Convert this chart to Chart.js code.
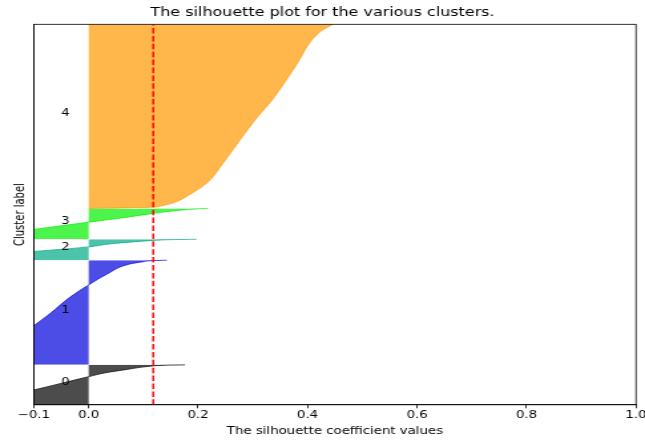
<!DOCTYPE html>
<html>
<head>
<meta charset="utf-8">
<script src="https://cdn.jsdelivr.net/npm/chart.js@4.4.1/dist/chart.umd.min.js"></script>
<style>
  html, body { margin: 0; padding: 0; background: #fff; overflow: hidden; }
  /* the reference figure is stretched sideways, so draw narrow and widen it */
  #wrap { width: 485px; height: 441px; transform: scaleX(1.3299); transform-origin: 0 0; }
</style>
</head>
<body>
<div id="wrap"><canvas id="silhouetteChart" width="485" height="441"></canvas></div>
<script>
// cluster names and number of samples in each one (stacked bottom to top)
const clusterLabels = ['0', '1', '2', '3', '4'];
const clusterSizes = [105, 275, 55, 81, 484];

// sorted silhouette values per cluster: rank inside the cluster -> coefficient
const cluster0Rank = [0, 39, 74, 84, 93, 101, 104, 105];
const cluster0Values = [-0.22, -0.1, 0.0, 0.03, 0.07, 0.11, 0.14, 0.176];

const cluster1Rank = [0, 103, 134, 178, 210, 238, 265, 271, 274, 275];
const cluster1Values = [-0.2, -0.1, -0.071, -0.034, 0.0, 0.033, 0.075, 0.1, 0.118, 0.143];

const cluster2Rank = [0, 23, 35, 43, 48, 52, 54, 55];
const cluster2Values = [-0.29, -0.1, 0.0, 0.04, 0.08, 0.118, 0.15, 0.197];

const cluster3Rank = [0, 26, 45, 56, 68, 76, 80, 81];
const cluster3Values = [-0.237, -0.1, 0.0, 0.06, 0.118, 0.165, 0.2, 0.218];

const cluster4Rank = [0, 1.5, 3.4, 5.8, 15, 37, 67, 120, 181, 233, 285, 372, 460, 476, 484];
const cluster4Values = [0.0, 0.06, 0.118, 0.13, 0.155, 0.185, 0.216, 0.246, 0.277, 0.304, 0.335, 0.377, 0.419, 0.436, 0.447];

// average silhouette score (red dashed line)
const silhouetteAvg = 0.118;

const xTickValues = [-0.1, 0, 0.2, 0.4, 0.6, 0.8, 1.0];
const xTickLabels = ['\u22120.1', '0.0', '0.2', '0.4', '0.6', '0.8', '1.0'];

const clusterColors = [
    'rgba(0, 0, 0, 0.7)',
    'rgba(0, 0, 221, 0.7)',
    'rgba(0, 170, 136, 0.7)',
    'rgba(0, 240, 0, 0.7)',
    'rgba(255, 153, 0, 0.7)'
];

const ranks = [cluster0Rank, cluster1Rank, cluster2Rank, cluster3Rank, cluster4Rank];
const values = [cluster0Values, cluster1Values, cluster2Values, cluster3Values, cluster4Values];
const yTotal = clusterSizes.reduce((a, b) => a + b, 0);

Chart.defaults.font.family = '"DejaVu Sans", sans-serif';
Chart.defaults.color = '#000';

// one filled line per cluster, stacked on top of each other
let yLower = 0;
const datasets = clusterLabels.map((label, i) => {
    const data = ranks[i].map((r, j) => ({ x: values[i][j], y: yLower + r }));
    yLower += clusterSizes[i];
    return {
        label: 'Cluster ' + label,
        data: data,
        borderColor: clusterColors[i],
        backgroundColor: clusterColors[i],
        borderWidth: 1,
        pointRadius: 0,
        cubicInterpolationMode: 'monotone',
        fill: 'origin',
        clip: 0,
        order: 1
    };
});

datasets.push({
    label: 'Average',
    data: [{ x: silhouetteAvg, y: 0 }, { x: silhouetteAvg, y: yTotal }],
    borderColor: 'red',
    borderWidth: 1.5,
    borderDash: [5.5, 2.4],
    pointRadius: 0,
    fill: false,
    clip: 0,
    order: 0
});

// cluster numbers next to each band, plus the box around the axes
const clusterTextPlugin = {
    id: 'clusterText',
    afterDatasetsDraw(chart) {
        const { ctx, scales: { x, y } } = chart;
        ctx.save();
        ctx.font = '10px "DejaVu Sans"';
        ctx.fillStyle = '#000';
        ctx.textAlign = 'left';
        ctx.textBaseline = 'alphabetic';
        let start = 0;
        clusterSizes.forEach((size, i) => {
            ctx.fillText(clusterLabels[i], x.getPixelForValue(-0.05), y.getPixelForValue(start + size / 2));
            start += size;
        });
        ctx.restore();
    },
    afterDraw(chart) {
        const { ctx, chartArea } = chart;
        ctx.save();
        ctx.strokeStyle = '#000';
        ctx.lineWidth = 0.8;
        ctx.strokeRect(chartArea.left, chartArea.top, chartArea.right - chartArea.left, chartArea.bottom - chartArea.top);
        ctx.restore();
    }
};

new Chart(document.getElementById('silhouetteChart'), {
    type: 'line',
    data: { datasets: datasets },
    options: {
        responsive: false,
        animation: false,
        indexAxis: 'y',
        layout: { padding: 0 },
        plugins: {
            legend: { display: false },
            tooltip: { enabled: false },
            title: {
                display: true,
                text: 'The silhouette plot for the various clusters.',
                font: { size: 12, weight: 'normal' },
                color: '#000',
                padding: { top: 5.8, bottom: 4.1 }
            }
        },
        scales: {
            x: {
                type: 'linear',
                min: -0.1,
                max: 1.0,
                afterBuildTicks: axis => {
                    axis.ticks = xTickValues.map(v => ({ value: v }));
                },
                afterFit: axis => {
                    axis.paddingRight = 6.8;
                },
                ticks: {
                    padding: 1.2,
                    font: { size: 10 },
                    callback: (value) => xTickLabels[xTickValues.indexOf(value)]
                },
                grid: {
                    drawOnChartArea: false,
                    drawTicks: true,
                    tickLength: 3.5,
                    lineWidth: 0.8,
                    color: '#000'
                },
                border: { display: true, color: '#000', width: 0.8 },
                title: {
                    display: true,
                    text: 'The silhouette coefficient values',
                    font: { size: 10 },
                    padding: { top: 2.3, bottom: 4 }
                }
            },
            y: {
                type: 'linear',
                min: 0,
                max: yTotal,
                ticks: { display: false },
                grid: { display: false, drawTicks: false },
                border: { display: true, color: '#000', width: 0.8 },
                title: {
                    display: true,
                    text: 'Cluster label',
                    font: { size: 10 },
                    padding: { top: 9, bottom: 4.5 }
                }
            }
        }
    },
    plugins: [clusterTextPlugin]
});
</script>
</body>
</html>
